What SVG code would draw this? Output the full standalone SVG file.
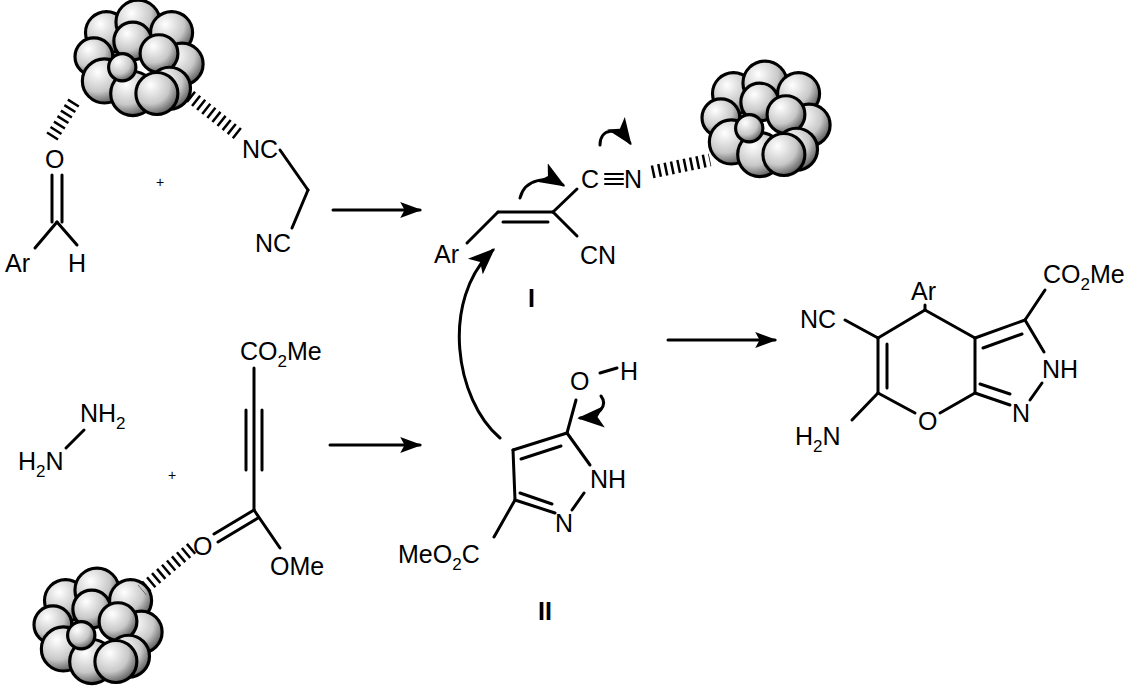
<svg xmlns="http://www.w3.org/2000/svg" width="1140" height="695" viewBox="0 0 1140 695">
<style>
text{font-family:"Liberation Sans",Arial,sans-serif;font-size:25px;fill:#000}
.b{stroke:#000;stroke-width:3;fill:none;stroke-linecap:round}
.h{stroke:#000;stroke-width:13;stroke-dasharray:2.5 4;fill:none}
.ball{fill:url(#g);stroke:#000;stroke-width:3}
.sub{font-size:17px}
</style>
<defs>
<radialGradient id="g" cx="0.35" cy="0.3" r="0.75"><stop offset="0" stop-color="#fff"/><stop offset="0.6" stop-color="#c8c8c8"/><stop offset="1" stop-color="#555"/></radialGradient>
<marker id="a" viewBox="0 0 10 10" refX="9" refY="5" markerWidth="22" markerHeight="16" markerUnits="userSpaceOnUse" orient="auto" preserveAspectRatio="none"><path d="M0,0 L10,5 L0,10 L2,5z"/></marker>
<marker id="ah" viewBox="0 0 10 10" refX="9" refY="5" markerWidth="9" markerHeight="9" orient="auto"><path d="M0,1 L10,5 L0,9 L2.5,5z"/></marker>
<g id="cl">
<circle class="ball" cx="-30" cy="-28" r="20"/><circle class="ball" cx="0" cy="-38" r="21"/><circle class="ball" cx="32" cy="-28" r="20"/>
<circle class="ball" cx="42" cy="2" r="20"/><circle class="ball" cx="-42" cy="-5" r="18"/><circle class="ball" cx="-5" cy="-20" r="18"/>
<circle class="ball" cx="20" cy="-8" r="18"/><circle class="ball" cx="-32" cy="18" r="21"/><circle class="ball" cx="30" cy="25" r="20"/>
<circle class="ball" cx="-5" cy="30" r="21"/><circle class="ball" cx="-15" cy="5" r="13"/><circle class="ball" cx="18" cy="30" r="20"/>
</g>
</defs>
<g id="cluster1"><use href="#cl" transform="translate(138,62) scale(1.05)"/></g>
<g id="cluster2"><use href="#cl" transform="translate(765,123) scale(1.05)"/></g>
<g id="cluster3"><use href="#cl" transform="translate(97,630) scale(1.05)"/></g>

<g id="aldehyde">
<line class="h" x1="74" y1="102" x2="50" y2="140"/>
<text x="45" y="168">O</text>
<line class="b" x1="52" y1="175" x2="52" y2="222"/><line class="b" x1="62" y1="175" x2="62" y2="222"/>
<line class="b" x1="57" y1="222" x2="35" y2="248"/><line class="b" x1="57" y1="222" x2="77" y2="245"/>
<text x="5" y="272">Ar</text><text x="68" y="272">H</text>
</g>
<text x="156" y="187" style="font-size:14px">+</text>
<g id="malononitrile">
<line class="h" x1="190" y1="96" x2="238" y2="134"/>
<text x="242" y="158">NC</text>
<line class="b" x1="280" y1="150" x2="308" y2="190"/><line class="b" x1="308" y1="190" x2="292" y2="228"/>
<text x="255" y="252">NC</text>
</g>
<g id="hydrazine"><text x="80" y="422">NH<tspan class="sub" dy="7">2</tspan></text><text x="18" y="470">H<tspan class="sub" dy="7">2</tspan><tspan dy="-7">N</tspan></text>
<line class="b" x1="66" y1="448" x2="84" y2="430"/></g>
<text x="168" y="480" style="font-size:14px">+</text>
<g id="dmad">
<text x="240" y="360">CO<tspan class="sub" dy="7">2</tspan><tspan dy="-7">Me</tspan></text>
<line class="b" x1="254" y1="368" x2="254" y2="510"/><line class="b" x1="246" y1="410" x2="246" y2="470"/><line class="b" x1="262" y1="410" x2="262" y2="470"/>
<line class="b" x1="254" y1="510" x2="214" y2="534"/><line class="b" x1="258" y1="518" x2="218" y2="542"/>
<text x="193" y="555">O</text>
<line class="b" x1="254" y1="510" x2="280" y2="548"/><text x="270" y="575">OMe</text>
<line class="h" x1="192" y1="548" x2="142" y2="590"/>
</g>
<g id="intermediateI">
<text x="434" y="263">Ar</text>
<line class="b" x1="467" y1="243" x2="498" y2="212"/>
<line class="b" x1="498" y1="212" x2="553" y2="212"/><line class="b" x1="503" y1="222" x2="548" y2="222"/>
<line class="b" x1="553" y1="212" x2="577" y2="189"/><line class="b" x1="553" y1="212" x2="577" y2="236"/>
<text x="580" y="264">CN</text>
<text x="581" y="188">C</text>
<line class="b" x1="605" y1="174" x2="623" y2="174" style="stroke-width:2"/><line class="b" x1="605" y1="179" x2="623" y2="179" style="stroke-width:2"/><line class="b" x1="605" y1="184" x2="623" y2="184" style="stroke-width:2"/>
<text x="624" y="188">N</text>
<line class="h" x1="652" y1="172" x2="710" y2="160"/>
<text x="528" y="307" style="font-weight:bold">I</text>
</g>
<g id="pyrazoleII">
<line class="b" x1="513" y1="450" x2="567" y2="433"/><line class="b" x1="521" y1="459" x2="561" y2="446"/>
<line class="b" x1="567" y1="433" x2="590" y2="465"/>
<text x="590" y="488">NH</text>
<line class="b" x1="584" y1="493" x2="572" y2="510"/>
<text x="555" y="532">N</text>
<line class="b" x1="555" y1="513" x2="515" y2="500"/><line class="b" x1="552" y1="504" x2="520" y2="493"/>
<line class="b" x1="515" y1="500" x2="513" y2="450"/>
<line class="b" x1="515" y1="500" x2="494" y2="537"/>
<text x="398" y="563">MeO<tspan class="sub" dy="7">2</tspan><tspan dy="-7">C</tspan></text>
<line class="b" x1="567" y1="433" x2="576" y2="400"/>
<text x="570" y="390">O</text><line class="b" x1="600" y1="373" x2="617" y2="368"/><text x="620" y="380">H</text>
<text x="538" y="620" style="font-weight:bold">II</text>
</g>
<g id="product">
<text x="911" y="300">Ar</text>
<line class="b" x1="925" y1="310" x2="925" y2="305"/>
<line class="b" x1="925" y1="310" x2="878" y2="338"/><line class="b" x1="925" y1="310" x2="975" y2="338"/>
<line class="b" x1="878" y1="338" x2="878" y2="393"/><line class="b" x1="887" y1="344" x2="887" y2="388"/>
<line class="b" x1="878" y1="338" x2="845" y2="320"/><text x="800" y="328">NC</text>
<line class="b" x1="878" y1="393" x2="915" y2="413"/><line class="b" x1="878" y1="393" x2="852" y2="420"/>
<text x="795" y="445">H<tspan class="sub" dy="7">2</tspan><tspan dy="-7">N</tspan></text>
<text x="918" y="430">O</text>
<line class="b" x1="940" y1="413" x2="975" y2="393"/>
<line class="b" x1="975" y1="393" x2="975" y2="338"/>
<line class="b" x1="975" y1="338" x2="1025" y2="320"/><line class="b" x1="983" y1="348" x2="1022" y2="334"/>
<line class="b" x1="1025" y1="320" x2="1044" y2="352"/><text x="1042" y="378">NH</text>
<line class="b" x1="1042" y1="383" x2="1030" y2="400"/><text x="1012" y="422">N</text>
<line class="b" x1="975" y1="393" x2="1010" y2="405"/><line class="b" x1="980" y1="384" x2="1010" y2="394"/>
<line class="b" x1="1025" y1="320" x2="1045" y2="290"/>
<text x="1043" y="283">CO<tspan class="sub" dy="7">2</tspan><tspan dy="-7">Me</tspan></text>
</g>
<g id="connectors">
<line class="b" x1="333" y1="210" x2="420" y2="210" marker-end="url(#a)"/>
<line class="b" x1="330" y1="445" x2="420" y2="445" marker-end="url(#a)"/>
<line class="b" x1="668" y1="340" x2="775" y2="340" marker-end="url(#a)"/>
<path class="b" d="M500,438 C455,400 440,300 493,250" marker-end="url(#ah)"/>
<path class="b" d="M520,198 C525,178 548,176 563,185" marker-end="url(#ah)"/>
<path class="b" d="M600,145 C600,128 618,126 630,143" marker-end="url(#ah)"/>
<path class="b" d="M601,396 C608,405 600,417 580,418" marker-end="url(#ah)"/>
</g>
</svg>
